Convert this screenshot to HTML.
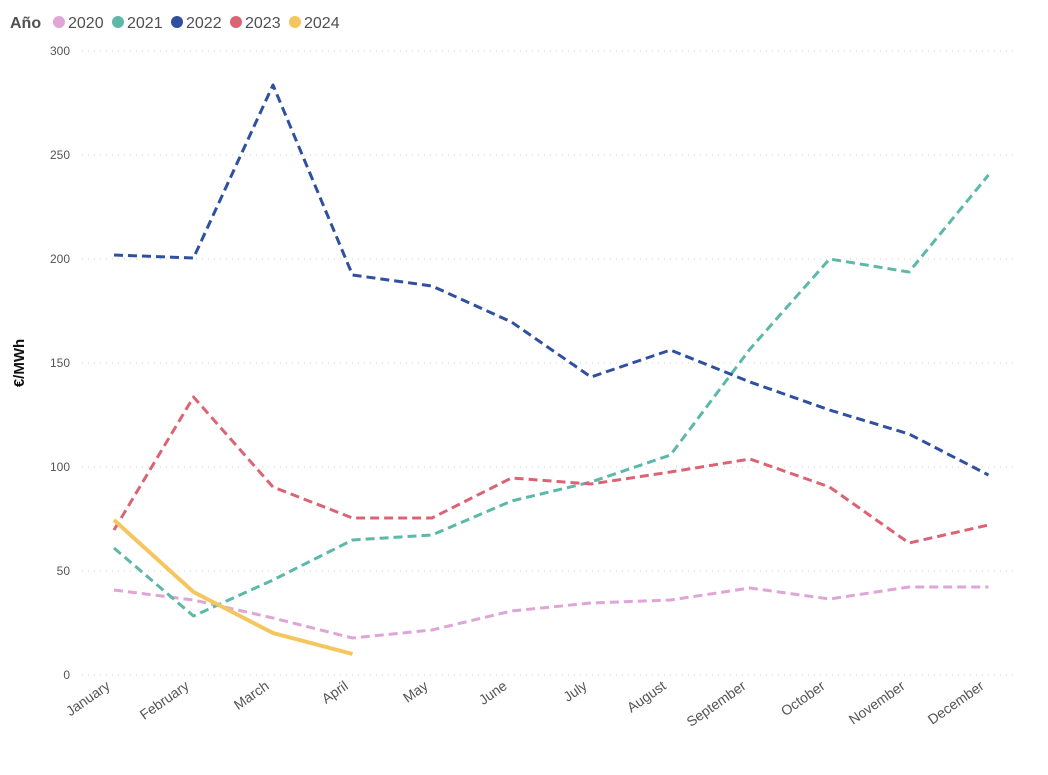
<!DOCTYPE html><html><head><meta charset="utf-8"><style>body{margin:0;background:#fff;font-family:"Liberation Sans","DejaVu Sans",sans-serif}</style></head><body>
<svg width="1048" height="770" xmlns="http://www.w3.org/2000/svg" font-family="Liberation Sans, DejaVu Sans, sans-serif">
<text x="10" y="28" font-size="16" font-weight="bold" fill="#505050">Año</text>
<g font-size="16" fill="#505050">
<circle cx="59" cy="22" r="6" fill="#DEA5D6"/><text x="68" y="28">2020</text>
<circle cx="118" cy="22" r="6" fill="#5CB8A7"/><text x="127" y="28">2021</text>
<circle cx="177" cy="22" r="6" fill="#2F4FA0"/><text x="186" y="28">2022</text>
<circle cx="236" cy="22" r="6" fill="#DB6474"/><text x="245" y="28">2023</text>
<circle cx="295" cy="22" r="6" fill="#F5C55E"/><text x="304" y="28">2024</text>
</g>
<g stroke="#d0d0d0" stroke-dasharray="1,5" stroke-width="1">
<line x1="82" x2="1015" y1="51" y2="51"/><line x1="82" x2="1015" y1="155" y2="155"/><line x1="82" x2="1015" y1="259" y2="259"/><line x1="82" x2="1015" y1="363" y2="363"/><line x1="82" x2="1015" y1="467" y2="467"/><line x1="82" x2="1015" y1="571" y2="571"/><line x1="82" x2="1015" y1="675" y2="675"/>
</g>
<g font-size="12" fill="#555" text-anchor="end">
<text x="70" y="55">300</text><text x="70" y="159">250</text><text x="70" y="263">200</text><text x="70" y="367">150</text><text x="70" y="471">100</text><text x="70" y="575">50</text><text x="70" y="679">0</text>
</g>
<text transform="translate(24,363) rotate(-90)" font-size="15" font-weight="bold" text-anchor="middle" fill="#111">€/MWh</text>
<g font-size="14" fill="#555" text-anchor="end">
<text transform="translate(111,688) rotate(-35)">January</text>
<text transform="translate(190,688) rotate(-35)">February</text>
<text transform="translate(270,688) rotate(-35)">March</text>
<text transform="translate(349,688) rotate(-35)">April</text>
<text transform="translate(429,688) rotate(-35)">May</text>
<text transform="translate(508,688) rotate(-35)">June</text>
<text transform="translate(588,688) rotate(-35)">July</text>
<text transform="translate(667,688) rotate(-35)">August</text>
<text transform="translate(747,688) rotate(-35)">September</text>
<text transform="translate(826,688) rotate(-35)">October</text>
<text transform="translate(906,688) rotate(-35)">November</text>
<text transform="translate(985,688) rotate(-35)">December</text>
</g>
<g fill="none" stroke-width="3" stroke-dasharray="9,5" stroke-linejoin="round">
<polyline stroke="#DEA5D6" points="114,590 193.5,600 273,618 352.5,638 432,630 511.5,611 591,603 670.5,600 750,588 829.5,599 909,587 988.5,587"/>
<polyline stroke="#5CB8A7" points="114,548 193.5,616 273,580 352.5,540 432,535 511.5,501 591,482 670.5,455 750,349 829.5,259 909,272 988.5,175"/>
<polyline stroke="#2F4FA0" points="114,255 193.5,258 273,85 352.5,275 432,286 511.5,322 591,377 670.5,350 750,382 829.5,410 909,434 988.5,475"/>
<polyline stroke="#DB6474" points="114,530 193.5,397 273,487 352.5,518 432,518 511.5,478 591,484 670.5,472 750,459 829.5,487 909,543 988.5,525"/>
</g>
<polyline fill="none" stroke="#F5C55E" stroke-width="4" stroke-linejoin="round" points="114,520 193.5,592 273,633 352.5,654"/>
</svg></body></html>
